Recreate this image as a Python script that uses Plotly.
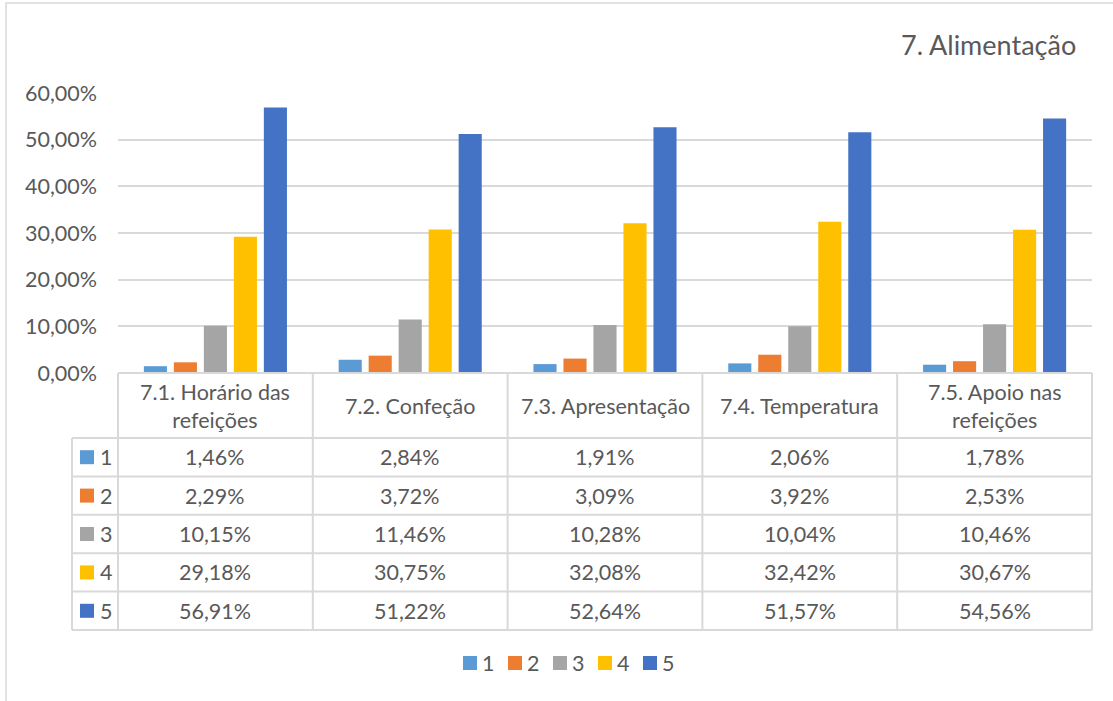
import plotly.graph_objects as go

# ---------------- data ----------------
categories = ["7.1. Horário das refeições", "7.2. Confeção", "7.3. Apresentação",
              "7.4. Temperatura", "7.5. Apoio nas refeições"]
header_labels = ["7.1. Horário das<br>refeições", "7.2. Confeção", "7.3. Apresentação",
                 "7.4. Temperatura", "7.5. Apoio nas<br>refeições"]
series_names = ["1", "2", "3", "4", "5"]
s1 = [1.46, 2.84, 1.91, 2.06, 1.78]
s2 = [2.29, 3.72, 3.09, 3.92, 2.53]
s3 = [10.15, 11.46, 10.28, 10.04, 10.46]
s4 = [29.18, 30.75, 32.08, 32.42, 30.67]
s5 = [56.91, 51.22, 52.64, 51.57, 54.56]
series_values = [s1, s2, s3, s4, s5]
series_colors = ["#5B9BD5", "#ED7D31", "#A5A5A5", "#FFC000", "#4472C4"]
title_text = "7. Alimentação"

# ---------------- layout constants ----------------
W, H = 1113, 701
L, R, T, B = 118, 21, 93, 328
PW, PH = W - L - R, H - T - B
FONT = "Lato"
TXT = "#595959"
GRID = "#d9d9d9"
FS = 21.5


def px_x(px):
    return (px - L) / PW


def px_y(py):
    return (H - B - py) / PH


fig = go.Figure()
for name, vals, col in zip(series_names, series_values, series_colors):
    fig.add_trace(go.Bar(name=name, x=categories, y=[v / 100 for v in vals],
                         marker=dict(color=col, line=dict(width=0)),
                         hoverinfo="skip"))

shapes = []
annotations = []

# outer chart frame
shapes.append(dict(type="rect", xref="paper", yref="paper",
                   x0=px_x(6), x1=px_x(1130), y0=px_y(3), y1=px_y(720),
                   line=dict(color=GRID, width=1.5), layer="below"))

# table geometry (pixels)
header_top = H - B
header_bot = 438
row_h = 38.4
n = len(categories)
rows = len(series_names)
table_bot = header_bot + rows * row_h
leg_left = 72
lc = dict(color=GRID, width=2)

# horizontal lines
shapes.append(dict(type="line", xref="paper", yref="paper", x0=0, x1=1,
                   y0=px_y(header_top), y1=px_y(header_top), line=lc))
for r in range(rows + 1):
    yy = px_y(header_bot + r * row_h)
    shapes.append(dict(type="line", xref="paper", yref="paper",
                       x0=px_x(leg_left), x1=1, y0=yy, y1=yy, line=lc))
# vertical lines
for i in range(n + 1):
    shapes.append(dict(type="line", xref="paper", yref="paper", x0=i / n, x1=i / n,
                       y0=px_y(header_top), y1=px_y(table_bot), line=lc))
shapes.append(dict(type="line", xref="paper", yref="paper", x0=px_x(leg_left), x1=px_x(leg_left),
                   y0=px_y(header_bot), y1=px_y(table_bot), line=lc))

# header texts
for i, lab in enumerate(header_labels):
    annotations.append(dict(x=(i + 0.5) / n, y=px_y((header_top + header_bot) / 2),
                            xref="paper", yref="paper", text=lab, showarrow=False,
                            xanchor="center", yanchor="middle",
                            font=dict(family=FONT, size=FS, color=TXT)))

# data rows
for r, (name, vals, col) in enumerate(zip(series_names, series_values, series_colors)):
    cy = header_bot + (r + 0.5) * row_h
    shapes.append(dict(type="rect", xref="paper", yref="paper",
                       x0=px_x(80), x1=px_x(94), y0=px_y(cy - 7), y1=px_y(cy + 7),
                       fillcolor=col, line=dict(width=0)))
    annotations.append(dict(x=px_x(98), y=px_y(cy), xref="paper", yref="paper",
                            text=name, showarrow=False, xanchor="left", yanchor="middle",
                            font=dict(family=FONT, size=FS, color=TXT)))
    for i, v in enumerate(vals):
        annotations.append(dict(x=(i + 0.5) / n, y=px_y(cy), xref="paper", yref="paper",
                                text=f"{v:.2f}".replace(".", ",") + "%", showarrow=False,
                                xanchor="center", yanchor="middle",
                                font=dict(family=FONT, size=FS, color=TXT)))

# bottom legend
leg_y = 663
for k, (name, col) in enumerate(zip(series_names, series_colors)):
    x0 = 463 + k * 45
    shapes.append(dict(type="rect", xref="paper", yref="paper",
                       x0=px_x(x0), x1=px_x(x0 + 14), y0=px_y(leg_y - 7), y1=px_y(leg_y + 7),
                       fillcolor=col, line=dict(width=0)))
    annotations.append(dict(x=px_x(x0 + 17), y=px_y(leg_y), xref="paper", yref="paper",
                            text=name, showarrow=False, xanchor="left", yanchor="middle",
                            font=dict(family=FONT, size=FS, color=TXT)))

# title
annotations.append(dict(x=px_x(1078), y=px_y(45), xref="paper", yref="paper",
                        text=title_text, showarrow=False, xanchor="right", yanchor="middle",
                        font=dict(family=FONT, size=27, color=TXT)))

fig.update_layout(
    width=W, height=H,
    margin=dict(l=L, r=R, t=T, b=B, pad=0),
    paper_bgcolor="white", plot_bgcolor="white",
    barmode="group", bargap=0.23, bargroupgap=0.23,
    showlegend=False,
    separators=",.",
    font=dict(family=FONT, size=FS, color=TXT),
    xaxis=dict(range=[-0.5, n - 0.5], showticklabels=False, showgrid=False,
               zeroline=False, showline=False, fixedrange=True),
    yaxis=dict(range=[0, 0.6], dtick=0.1, tick0=0, tickformat=".2%",
               gridcolor=GRID, gridwidth=1.5, zeroline=False, showline=False,
               ticks="", ticklabelstandoff=20,
               tickfont=dict(family=FONT, size=FS, color=TXT), fixedrange=True),
    shapes=shapes, annotations=annotations,
)

fig.write_html("out.html", config={"displayModeBar": False})
